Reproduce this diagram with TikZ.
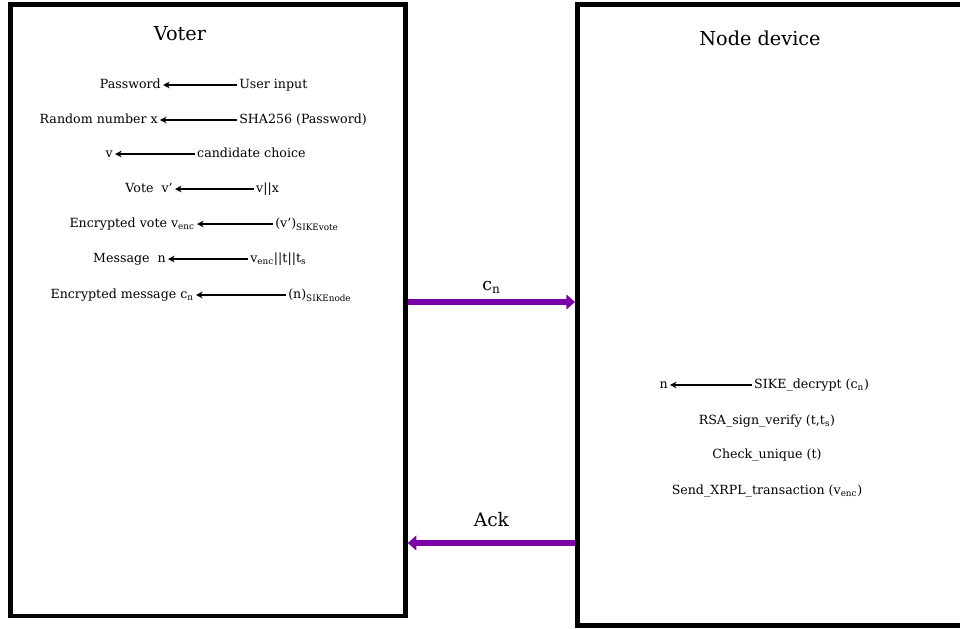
\documentclass[tikz,border=0pt]{standalone}
\usepackage{fontspec}
\setmainfont{DejaVu Serif}
\usetikzlibrary{arrows.meta,calc}
\definecolor{msgline}{HTML}{7B00A8}

\begin{document}
\begin{tikzpicture}[
  every node/.style={font=\fontsize{9.5}{11}\selectfont},
  party/.style={draw=black, line width=3.4pt, anchor=north west},
  title/.style={font=\fontsize{14.5}{17}\selectfont},
  item/.style={inner xsep=1.5pt, inner ysep=0pt, text height=1.7ex, text depth=0.6ex},
  flow/.style={-{Stealth[length=5pt, width=5pt]}, line width=1pt, black},
  msg/.style={-{Triangle[length=6.5pt, width=11pt]}, line width=5.2pt, msgline},
  msglbl/.style={font=\fontsize{13}{15}\selectfont, text=black, inner sep=1pt}
]
\useasboundingbox (0,0) rectangle (25.400,-16.642);
\clip (0,0) rectangle (25.400,-16.642);

% the two parties
\node[party, minimum width=10.458cm, minimum height=16.186cm] (Voter) at (0.212,-0.053) {};
\node[party, minimum width=10.800cm, minimum height=16.437cm] (Device) at (15.213,-0.053) {};
\node[title] (VoterT) at (4.762,-0.900) {Voter};
\node[title] (DeviceT) at (20.108,-1.005) {Node device};

% voter side
\node[item, anchor=east] (pw) at (4.313,-2.249) {Password};
\node[item, anchor=west] (userin) at (6.271,-2.249) {User input};
\draw[flow] (userin) -- (pw);
\node[item, anchor=east] (rnd) at (4.233,-3.175) {Random number x};
\node[item, anchor=west] (sha) at (6.271,-3.175) {SHA256 (Password)};
\draw[flow] (sha) -- (rnd);
\node[item, anchor=east] (v) at (3.043,-4.075) {v};
\node[item, anchor=west] (choice) at (5.159,-4.075) {candidate choice};
\draw[flow] (choice) -- (v);
\node[item, anchor=east] (vote) at (4.630,-5.001) {Vote\ \ v’};
\node[item, anchor=west] (vx) at (6.720,-5.001) {v||x};
\draw[flow] (vx) -- (vote);
\node[item, anchor=east] (venc) at (5.212,-5.927) {Encrypted vote v\textsubscript{enc}};
\node[item, anchor=west] (sikevote) at (7.223,-5.927) {(v’)\textsubscript{SIKEvote}};
\draw[flow] (sikevote) -- (venc);
\node[item, anchor=east] (msgn) at (4.445,-6.853) {Message\ \ n};
\node[item, anchor=west] (concat) at (6.562,-6.853) {v\textsubscript{enc}||t||t\textsubscript{s}};
\draw[flow] (concat) -- (msgn);
\node[item, anchor=east] (cn) at (5.186,-7.805) {Encrypted message c\textsubscript{n}};
\node[item, anchor=west] (sikenode) at (7.567,-7.805) {(n)\textsubscript{SIKEnode}};
\draw[flow] (sikenode) -- (cn);

% node device side
\node[item, anchor=east] (n) at (17.727,-10.186) {n};
\node[item, anchor=west] (decrypt) at (19.896,-10.186) {SIKE\_decrypt (c\textsubscript{n})};
\draw[flow] (decrypt) -- (n);
\node[item] (verify) at (20.293,-11.139) {RSA\_sign\_verify (t,t\textsubscript{s})};
\node[item] (unique) at (20.293,-12.038) {Check\_unique (t)};
\node[item] (send) at (20.293,-12.991) {Send\_XRPL\_transaction (v\textsubscript{enc})};

% messages between the parties
\coordinate (cnrow) at (0,-7.990);
\coordinate (ackrow) at (0,-14.367);
\draw[msg] (Voter.east |- cnrow) -- node[msglbl, above=3pt] {c\textsubscript{n}} (Device.west |- cnrow);
\draw[msg] (Device.west |- ackrow) -- node[msglbl, font=\fontsize{14}{16}\selectfont, above=9pt] {Ack} (Voter.east |- ackrow);
\end{tikzpicture}
\end{document}
